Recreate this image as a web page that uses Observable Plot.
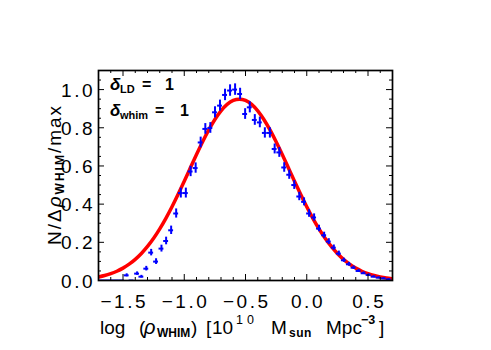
<!DOCTYPE html>
<html><head><meta charset="utf-8">
<script src="https://cdn.jsdelivr.net/npm/d3@7"></script>
<script src="https://cdn.jsdelivr.net/npm/@observablehq/plot@0.6"></script>
<style>body{margin:0;background:#fff} svg{display:block}</style>
</head><body><div id="chart"></div>
<script>
// ---- data ----
const binX = [-1.67,-1.63,-1.59,-1.55,-1.51,-1.47,-1.43,-1.385,-1.35,-1.31,-1.27,-1.23,-1.186,-1.148,-1.107,-1.066,-1.028,-0.987,-0.948,-0.907,-0.866,-0.828,-0.787,-0.749,-0.708,-0.667,-0.626,-0.585,-0.544,-0.503,-0.465,-0.424,-0.383,-0.342,-0.301,-0.262,-0.224,-0.184,-0.143,-0.102,-0.061,-0.022,0.019,0.06,0.10,0.142,0.18,0.221,0.262,0.303,0.344,0.382,0.423,0.464,0.505,0.546,0.587,0.628,0.669];
const binY = [0,0,0,0,0,0.027,0,0.036,0.02,0.062,0.146,0.099,0.167,0.207,0.263,0.351,0.458,0.458,0.571,0.589,0.723,0.794,0.799,0.881,0.916,0.972,0.995,1.0,0.977,0.872,0.907,0.841,0.828,0.773,0.773,0.689,0.671,0.592,0.554,0.50,0.44,0.412,0.351,0.33,0.272,0.237,0.204,0.172,0.141,0.106,0.085,0.067,0.05,0.038,0.029,0.02,0.015,0.011,0.006];
const binErr = [0,0,0,0,0,0.008,0,0.009,0.007,0.012,0.017,0.015,0.018,0.02,0.022,0.024,0.026,0.026,0.027,0.027,0.028,0.028,0.028,0.029,0.029,0.03,0.03,0.03,0.03,0.028,0.029,0.028,0.028,0.027,0.027,0.026,0.026,0.025,0.024,0.023,0.022,0.021,0.02,0.019,0.017,0.016,0.015,0.014,0.013,0.011,0.01,0.009,0.008,0.007,0.006,0.005,0.004,0.004,0.003];
const binHalfWidth = 0.02;

const fitX = [-1.70,-1.65,-1.60,-1.55,-1.50,-1.45,-1.40,-1.35,-1.30,-1.25,-1.20,-1.15,-1.10,-1.05,-1.00,-0.95,-0.90,-0.85,-0.80,-0.75,-0.70,-0.65,-0.60,-0.55,-0.50,-0.45,-0.40,-0.35,-0.30,-0.25,-0.20,-0.15,-0.10,-0.05,0.00,0.05,0.10,0.15,0.20,0.25,0.30,0.35,0.40,0.45,0.50,0.55,0.60,0.65,0.70];
const fitY = [0.0186,0.0260,0.0358,0.0485,0.0649,0.0854,0.1108,0.1416,0.1783,0.2212,0.2704,0.3256,0.3863,0.4516,0.5201,0.5902,0.6599,0.7268,0.7889,0.8434,0.8885,0.9222,0.9430,0.9500,0.9430,0.9222,0.8885,0.8434,0.7889,0.7268,0.6599,0.5902,0.5201,0.4516,0.3863,0.3256,0.2704,0.2212,0.1783,0.1416,0.1108,0.0854,0.0649,0.0485,0.0358,0.0260,0.0186,0.0131,0.0091];

const xMajor = [-1.5,-1.0,-0.5,0.0,0.5];
const xTickLabels = ["\u22121.5","\u22121.0","\u22120.5","0.0","0.5"];
const xMinor = [-1.6,-1.4,-1.3,-1.2,-1.1,-0.9,-0.8,-0.7,-0.6,-0.4,-0.3,-0.2,-0.1,0.1,0.2,0.3,0.4,0.6];
const yMajor = [0.0,0.2,0.4,0.6,0.8,1.0];
const yTickLabels = ["0.0","0.2","0.4","0.6","0.8","1.0"];
const yMinor = [0.05,0.1,0.15,0.25,0.3,0.35,0.45,0.5,0.55,0.65,0.7,0.75,0.85,0.9,0.95,1.05];

// ---- layout ----
const W = 491, H = 350, mL = 98, mR = 99, mT = 70, mB = 70;
const pw = W - mL - mR, ph = H - mT - mB;
const FONT = "'Liberation Sans', Arial, Helvetica, sans-serif";
const BLUE = "#0000ff", RED = "#ff0000";
const MAJ = 6, MIN = 3;

const bins = binX.map((x, i) => ({x, y: binY[i], e: binErr[i]}));
const fit = fitX.map((x, i) => ({x, y: fitY[i]}));

const plot = Plot.plot({
  width: W, height: H,
  marginLeft: mL, marginRight: mR, marginTop: mT, marginBottom: mB,
  style: {background: "white", fontFamily: FONT},
  x: {domain: [-1.7, 0.7], axis: null},
  y: {domain: [0, 1.1], axis: null},
  marks: [
    Plot.line(fit, {x: "x", y: "y", stroke: RED, strokeWidth: 3.5, curve: "natural", clip: true}),
    Plot.ruleY(bins, {y: "y", x1: d => d.x - binHalfWidth, x2: d => d.x + binHalfWidth, stroke: BLUE, strokeWidth: 2, clip: true}),
    Plot.ruleX(bins.filter(d => d.e > 0), {x: "x", y1: d => d.y - d.e, y2: d => d.y + d.e, stroke: BLUE, strokeWidth: 2, clip: true}),
    // ticks (inward, all four sides)
    Plot.tickX(xMajor, {x: d => d, insetTop: ph - MAJ, stroke: "black"}),
    Plot.tickX(xMajor, {x: d => d, insetBottom: ph - MAJ, stroke: "black"}),
    Plot.tickX(xMinor, {x: d => d, insetTop: ph - MIN, stroke: "black"}),
    Plot.tickX(xMinor, {x: d => d, insetBottom: ph - MIN, stroke: "black"}),
    Plot.tickY(yMajor, {y: d => d, insetRight: pw - MAJ, stroke: "black"}),
    Plot.tickY(yMajor, {y: d => d, insetLeft: pw - MAJ, stroke: "black"}),
    Plot.tickY(yMinor, {y: d => d, insetRight: pw - MIN, stroke: "black"}),
    Plot.tickY(yMinor, {y: d => d, insetLeft: pw - MIN, stroke: "black"}),
    Plot.frame({stroke: "black", strokeWidth: 1.7}),
    // tick labels
    Plot.text(xMajor, {x: d => d, frameAnchor: "bottom", lineAnchor: "bottom", dy: 27, dx: 1.25,
      text: (d, i) => xTickLabels[i], fontSize: 19, fill: "black"}),
    Plot.text(yMajor, {y: d => d, frameAnchor: "left", textAnchor: "end", dx: -3.5, dy: 1,
      text: (d, i) => yTickLabels[i], fontSize: 19, fill: "black"})
  ]
});
document.getElementById("chart").appendChild(plot);

const svg = d3.select(plot);
svg.selectAll('g[aria-label="text"] text').style("letter-spacing", "2.5px");

function seg(parent, str, x, y, size, opts = {}) {
  const t = parent.append("text")
    .attr("x", x).attr("y", y)
    .attr("text-anchor", "start")
    .attr("font-family", FONT)
    .attr("font-size", size)
    .attr("fill", "black")
    .text(str);
  if (opts.bold) t.attr("font-weight", "bold");
  if (opts.italic) t.attr("font-style", "italic");
  if (opts.ls) t.style("letter-spacing", opts.ls + "px");
  return t;
}

// x-axis title
const gx = svg.append("g");
seg(gx, "log", 100, 334, 19);
seg(gx, "(", 139, 334, 19);
seg(gx, "\u03c1", 144, 334, 20, {italic: true});
seg(gx, "WHIM", 157, 337, 12, {bold: true});
seg(gx, ")", 191, 334, 19);
seg(gx, "[", 206, 334, 19);
seg(gx, "10", 212, 334, 19);
seg(gx, "10", 236, 324, 12.5, {ls: 4});
seg(gx, "M", 271, 334, 19);
seg(gx, "sun", 289, 337, 12, {bold: true, ls: 0.5});
seg(gx, "Mpc", 326, 334, 19);
seg(gx, "\u22123", 361, 324, 12.5, {bold: true});
seg(gx, "]", 379, 334, 19);

// y-axis title (rotated)
const gy = svg.append("g").attr("transform", "translate(61,245) rotate(-90)");
const ty = gy.append("text").attr("x", 0).attr("y", 0).attr("text-anchor", "start")
  .attr("font-family", FONT).attr("font-size", 19).attr("fill", "black")
  .style("letter-spacing", "2px");
ty.append("tspan").text("N/\u0394");
ty.append("tspan").attr("font-style", "italic").text("\u03c1");
ty.append("tspan").attr("font-size", 12).attr("font-weight", "bold").attr("dy", 3).text("WHIM");
ty.append("tspan").attr("dy", -3).text("/max");

// in-plot annotation
const ga = svg.append("g");
seg(ga, "\u03b4", 110, 90, 17, {bold: true, italic: true});
seg(ga, "LD", 120, 93, 11, {bold: true});
seg(ga, "=", 142, 90, 16, {bold: true});
seg(ga, "1", 165, 90, 16, {bold: true});
seg(ga, "\u03b4", 110, 116, 17, {bold: true, italic: true});
seg(ga, "whim", 120, 119, 11, {bold: true});
seg(ga, "=", 155, 116, 16, {bold: true});
seg(ga, "1", 180, 116, 16, {bold: true});
</script>
</body></html>
